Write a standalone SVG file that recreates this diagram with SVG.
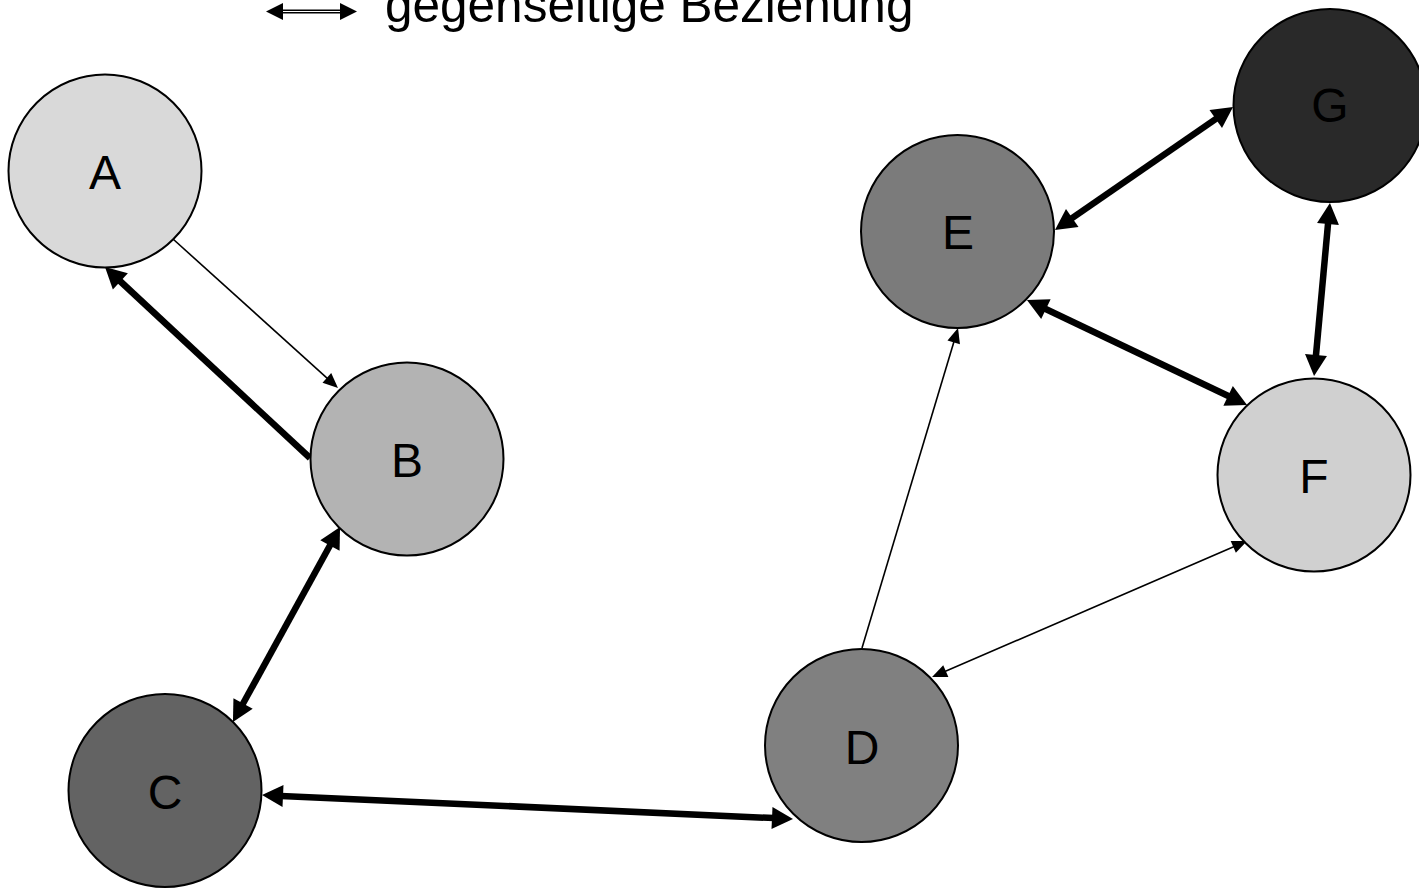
<svg xmlns="http://www.w3.org/2000/svg" width="1419" height="888" viewBox="0 0 1419 888">
<style>
.node circle{stroke:#000;stroke-width:2}
.node text{font-family:"Liberation Sans",Arial,sans-serif;font-size:48px;text-anchor:middle;fill:#000}
.thick{stroke:#000;stroke-width:6.5;fill:none}
.thin{stroke:#000;stroke-width:1.6;fill:none}
.thick.end,.thick.both{marker-end:url(#hThick)}
.thick.both{marker-start:url(#hThick)}
.thin.end,.thin.both{marker-end:url(#hThin)}
.thin.both{marker-start:url(#hThin)}
.legend{font-family:"Liberation Sans",Arial,sans-serif;font-size:49.5px;fill:#000}
</style>
<defs>
<marker id="hThick" markerUnits="userSpaceOnUse" markerWidth="24" markerHeight="24" viewBox="-2 -12 24 24" refX="2" refY="0" orient="auto-start-reverse">
<path d="M0,-11 L21,0 L0,11 Z" fill="#000"/>
</marker>
<marker id="hThin" markerUnits="userSpaceOnUse" markerWidth="18" markerHeight="16" viewBox="-1 -8 18 16" refX="1" refY="0" orient="auto-start-reverse">
<path d="M0,-6.5 L15,0 L0,6.5 Z" fill="#000"/>
</marker>
</defs>
<rect width="1419" height="888" fill="#fff"/>
<g id="legend">
<line x1="280" y1="11.5" x2="342" y2="11.5" stroke="#000" stroke-width="4"/>
<line x1="280" y1="11.5" x2="342" y2="11.5" stroke="#fff" stroke-width="1.2"/>
<path d="M266,11.5 L283,3 L283,20 Z" fill="#000"/>
<path d="M357,11.5 L340,3 L340,20 Z" fill="#000"/>
<text class="legend" x="385" y="22">gegenseitige Beziehung</text>
</g>
<g id="connectors">
<line class="thin end" x1="173" y1="239" x2="327.6" y2="378.6"/>
<line class="thick end" x1="310" y1="458" x2="118.9" y2="280"/>
<line class="thick both" x1="330.9" y1="543.7" x2="242.1" y2="705.3"/>
<line class="thick both" x1="281" y1="795.9" x2="774" y2="818.1"/>
<line class="thin end" x1="862" y1="648" x2="954" y2="341.4"/>
<line class="thin both" x1="944.9" y1="671.5" x2="1234.2" y2="546.5"/>
<line class="thick both" x1="1044.1" y1="308.2" x2="1229.9" y2="396.8"/>
<line class="thick both" x1="1070.6" y1="219.2" x2="1217.4" y2="117.8"/>
<line class="thick both" x1="1328.2" y1="221.9" x2="1315.8" y2="357.1"/>
</g>
<g id="node-A" class="node"><circle cx="105" cy="171" r="96.5" fill="#d9d9d9"/><text x="105" y="189">A</text></g>
<g id="node-B" class="node"><circle cx="407" cy="459" r="96.5" fill="#b3b3b3"/><text x="407" y="477">B</text></g>
<g id="node-C" class="node"><circle cx="165" cy="790.5" r="96.5" fill="#636363"/><text x="165" y="809">C</text></g>
<g id="node-D" class="node"><circle cx="861.5" cy="745.5" r="96.5" fill="#808080"/><text x="862" y="764">D</text></g>
<g id="node-E" class="node"><circle cx="957.5" cy="231.5" r="96.5" fill="#7b7b7b"/><text x="958" y="249">E</text></g>
<g id="node-F" class="node"><circle cx="1314" cy="475" r="96.5" fill="#d0d0d0"/><text x="1314" y="493">F</text></g>
<g id="node-G" class="node"><circle cx="1330" cy="105.5" r="96.5" fill="#292929"/><text x="1330" y="122">G</text></g>
</svg>
